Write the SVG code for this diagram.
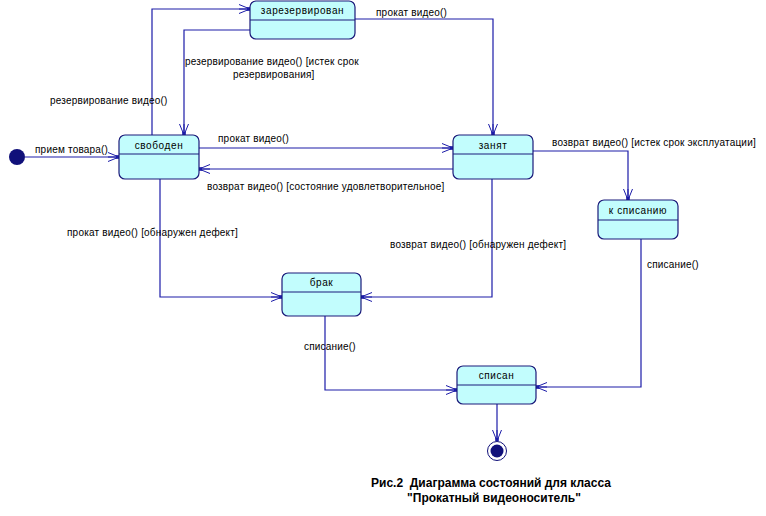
<svg xmlns="http://www.w3.org/2000/svg" width="766" height="516" viewBox="0 0 766 516">
<style>
.st{fill:#c2fdfd;stroke:#1a1a7a;stroke-width:1.2}
.dv{stroke:#1a1a7a;stroke-width:1}
.nt{font-family:"Liberation Sans",Arial,sans-serif;font-size:10px;fill:#000;text-anchor:middle;letter-spacing:0.6px}
.lb{font-family:"Liberation Sans",Arial,sans-serif;font-size:10px;fill:#000;letter-spacing:0.2px}
.cn{fill:none;stroke:#1c1ca8;stroke-width:1.2}
.ti{font-family:"Liberation Sans",Arial,sans-serif;font-size:12px;font-weight:bold;fill:#000;text-anchor:middle}
</style>
<defs>
<marker id="ar" viewBox="-12 -6 14 12" refX="0" refY="0" markerWidth="14" markerHeight="12" markerUnits="userSpaceOnUse" orient="auto">
<path d="M-11,-4.5 L0,0 L-11,4.5 M-11,0 L0,0" fill="none" stroke="#1c1ca8" stroke-width="1"/>
<rect x="-3" y="-1.8" width="3.2" height="3.6" fill="#1c1ca8"/>
</marker>
</defs>
<rect width="766" height="516" fill="#fff"/>
<g id="connectors">
<path class="cn" d="M25,157 H119" marker-end="url(#ar)"/>
<path class="cn" d="M152,135 V9 H250" marker-end="url(#ar)"/>
<path class="cn" d="M250,30 H184 V135" marker-end="url(#ar)"/>
<path class="cn" d="M355,19 H493 V135" marker-end="url(#ar)"/>
<path class="cn" d="M199,148 H453" marker-end="url(#ar)"/>
<path class="cn" d="M453,169 H199" marker-end="url(#ar)"/>
<path class="cn" d="M533,151 H628 V200" marker-end="url(#ar)"/>
<path class="cn" d="M160,179 V297 H282" marker-end="url(#ar)"/>
<path class="cn" d="M492,179 V297 H361" marker-end="url(#ar)"/>
<path class="cn" d="M641,239 V387 H536" marker-end="url(#ar)"/>
<path class="cn" d="M325,316 V390 H457" marker-end="url(#ar)"/>
<path class="cn" d="M497,404 V441" marker-end="url(#ar)"/>
<text class="lb" x="35" y="153">прием товара()</text>
<text class="lb" x="50" y="104">резервирование видео()</text>
<text class="lb" x="185" y="65">резервирование видео() [истек срок</text>
<text class="lb" x="233" y="78">резервирования]</text>
<text class="lb" x="376" y="16">прокат видео()</text>
<text class="lb" x="218" y="142">прокат видео()</text>
<text class="lb" x="207" y="190">возврат видео() [состояние удовлетворительное]</text>
<text class="lb" x="552" y="146">возврат видео() [истек срок эксплуатации]</text>
<text class="lb" x="67" y="236">прокат видео() [обнаружен дефект]</text>
<text class="lb" x="390" y="248">возврат видео() [обнаружен дефект]</text>
<text class="lb" x="647" y="268">списание()</text>
<text class="lb" x="304" y="350">списание()</text>
</g>
<g id="initial"><circle cx="17" cy="157" r="8" fill="#10107a"/></g>
<g id="zarezervirovan">
<rect class="st" x="250" y="1" width="105" height="38" rx="6"/>
<line class="dv" x1="250" y1="20" x2="355" y2="20"/>
<text class="nt" x="302.5" y="14">зарезервирован</text>
</g>
<g id="svoboden">
<rect class="st" x="119" y="135" width="80" height="44" rx="6"/>
<line class="dv" x1="119" y1="154" x2="199" y2="154"/>
<text class="nt" x="159" y="149">свободен</text>
</g>
<g id="zanyat">
<rect class="st" x="453" y="135" width="80" height="44" rx="6"/>
<line class="dv" x1="453" y1="154" x2="533" y2="154"/>
<text class="nt" x="493" y="149">занят</text>
</g>
<g id="k_spisaniyu">
<rect class="st" x="598" y="200" width="80" height="39" rx="6"/>
<line class="dv" x1="598" y1="220" x2="678" y2="220"/>
<text class="nt" x="638" y="214">к списанию</text>
</g>
<g id="brak">
<rect class="st" x="282" y="273" width="79" height="43" rx="6"/>
<line class="dv" x1="282" y1="292" x2="361" y2="292"/>
<text class="nt" x="321.5" y="286">брак</text>
</g>
<g id="spisan">
<rect class="st" x="457" y="366" width="79" height="38" rx="6"/>
<line class="dv" x1="457" y1="385" x2="536" y2="385"/>
<text class="nt" x="496.5" y="379">списан</text>
</g>
<g id="final">
<circle cx="497" cy="451" r="9.5" fill="#fff" stroke="#10107a" stroke-width="1"/>
<circle cx="497" cy="451" r="6.5" fill="#10107a"/>
</g>
<g id="caption">
<text class="ti" x="491" y="487">Рис.2&#160; Диаграмма состояний для класса</text>
<text class="ti" x="494" y="502">"Прокатный видеоноситель"</text>
</g>
</svg>
